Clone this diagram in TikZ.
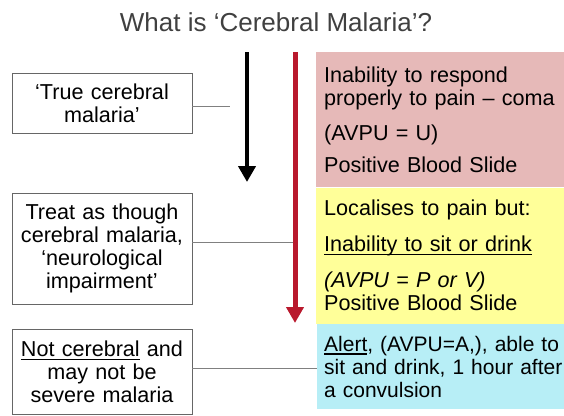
\documentclass[tikz,border=0pt]{standalone}
\usepackage{fontspec}
\setmainfont{Liberation Sans}
\usetikzlibrary{arrows.meta, positioning}
\definecolor{malariaPink}{RGB}{230,185,184}
\definecolor{malariaYellow}{RGB}{255,255,153}
\definecolor{malariaCyan}{RGB}{183,238,246}
\definecolor{malariaRed}{RGB}{185,25,45}
\definecolor{titleGray}{RGB}{64,64,64}
\definecolor{linkGray}{RGB}{128,128,128}
\newcommand{\undertext}[1]{\leavevmode\setbox0\hbox{#1}\rlap{\rule[-3.5pt]{\wd0}{1.1pt}}\box0\relax}
\tikzset{
    slide/.style={x=1pt, y=-1pt, font=\fontsize{21.6}{23}\selectfont},
    casebox/.style={draw=black!60, line width=0.9pt, fill=white,
                    minimum width=180pt, text width=176pt, inner sep=2pt,
                    align=center},
    statebox/.style={anchor=north west, minimum width=248pt, text width=262pt,
                     inner xsep=8pt, inner ysep=0pt, align=left},
    trend/.style={-{Triangle[length=16pt, width=17pt]}, line width=4.3pt},
    link/.style={draw=linkGray, line width=0.9pt},
    titletext/.style={font=\fontsize{26}{30}\selectfont, text=titleGray},
}

\begin{document}
\begin{tikzpicture}[slide]
\useasboundingbox (0,0) rectangle (564,415);

% ─── Title ──────────────────────────────────────────────────────────────
\node[titletext, anchor=base] (title) at (276,31) {What is ‘Cerebral Malaria’?};

% ─── Clinical states (right) ────────────────────────────────────────────
\node[statebox, fill=malariaPink, minimum height=135pt] (comaBox) at (316,52)
    {Inability to respond\\properly to pain – coma\\[11.5pt]
     (AVPU = U)\\[9pt]
     Positive Blood Slide};
\node[statebox, fill=malariaYellow, minimum height=136pt, below=0pt of comaBox] (localBox)
    {Localises to pain but:\\[13pt]
     \undertext{Inability to sit or drink}\\[13pt]
     \textit{(AVPU = P or V)}\\Positive Blood Slide};
\node[statebox, fill=malariaCyan, minimum height=85pt, inner xsep=7pt,
      font=\fontsize{21}{23}\selectfont, below=0pt of localBox] (alertBox)
    {\undertext{Alert}, (AVPU=A,), able to\\sit and drink, 1 hour after\\a convulsion};

% ─── Diagnoses (left) ───────────────────────────────────────────────────
\node[casebox, minimum height=60pt] (trueCM) at (102,103)
    {‘True cerebral\\malaria’};
\node[casebox, minimum height=111pt] (treatCM) at (102,248.5)
    {Treat as though\\cerebral malaria,\\‘neurological\\impairment’};
\node[casebox, minimum height=85pt] (notCM) at (102,371.5)
    {\undertext{Not cerebral} and\\may not be\\severe malaria};

% ─── Connectors ─────────────────────────────────────────────────────────
\coordinate (trueEnd) at (230,106);
\coordinate (redJoin) at (293,242);
\coordinate (notLevel) at (0,368);
\draw[link] (trueCM.east |- trueEnd) -- (trueEnd);
\draw[link] (treatCM.east |- redJoin) -- (redJoin);
\draw[link] (notCM.east |- notLevel) -- (alertBox.west |- notLevel);

% ─── Severity arrows ────────────────────────────────────────────────────
\coordinate (blackTop) at (247,52);
\coordinate (blackTip) at (247,182);
\coordinate (redTop) at (295,52);
\coordinate (redTip) at (295,323);
\draw[trend] (blackTop) -- (blackTip);
\draw[trend, draw=malariaRed, fill=malariaRed, line width=5pt] (redTop) -- (redTip);

\end{tikzpicture}
\end{document}
